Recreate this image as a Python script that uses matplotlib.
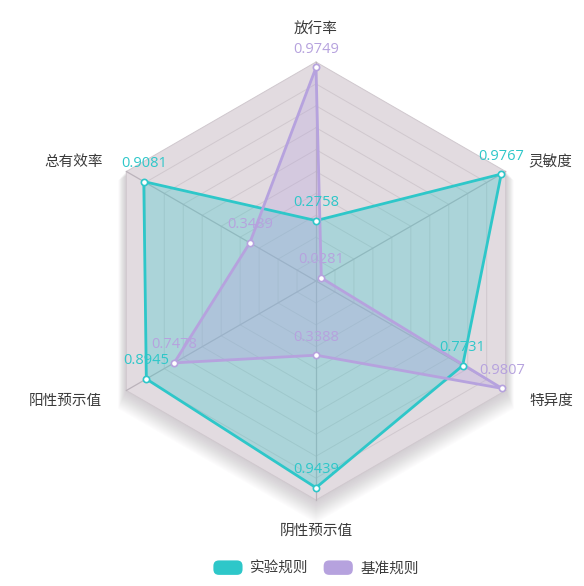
import numpy as np
import matplotlib
matplotlib.use("Agg")
import matplotlib.pyplot as plt
from matplotlib.patches import FancyBboxPatch, Patch
from matplotlib.legend_handler import HandlerPatch
from matplotlib.transforms import ScaledTranslation

plt.rcParams['font.family'] = ['Noto Sans CJK SC', 'DejaVu Sans']

# indicators, counter-clockwise from the top
indicators = ['放行率', '总有效率', '阳性预示值', '阴性预示值', '特异度', '灵敏度']
series_names = ['实验规则', '基准规则']
exp_values = [0.2758, 0.9081, 0.8945, 0.9439, 0.7731, 0.9767]
base_values = [0.9749, 0.3489, 0.7478, 0.3388, 0.9807, 0.0281]
colors = ['#2ec7c9', '#b6a2de']
max_value = 1.0
split_number = 10

# offsets (pixels) for the indicator names relative to the outer vertex
name_offsets = [(0, 32, 'center'), (-23, 9, 'right'), (-24, -10, 'right'),
                (0, -31, 'center'), (24, -10, 'left'), (23, 9, 'left')]

W, H = 584, 586
fig = plt.figure(figsize=(W / 100, H / 100), dpi=100)
cx, cy, R = 316, 281, 219
ax = fig.add_axes([(cx - R) / W, (H - cy - R) / H, 2 * R / W, 2 * R / H],
                  projection='polar')
ax.set_theta_zero_location('N')
ax.set_theta_direction(1)
ax.set_ylim(0, max_value)
ax.axis('off')

n = len(indicators)
angles = np.linspace(0, 2 * np.pi, n, endpoint=False)
ang_c = np.append(angles, angles[0])


def closed(vals):
    return np.append(vals, vals[0])


# soft shadow under the grid
for k in range(1, 18):
    off = ScaledTranslation(0, -0.8 * k / 100, fig.dpi_scale_trans)
    ax.fill(ang_c, closed(np.full(n, max_value * (1 + k * 0.0025))),
            color='#9a909a', alpha=0.028, lw=0, clip_on=False,
            transform=ax.transData + off, zorder=0)

# split area and rings
ax.fill(ang_c, closed(np.full(n, max_value)), color='#e2dbe0', lw=0,
        clip_on=False, zorder=1)
for i in range(1, split_number + 1):
    r = max_value * i / split_number
    ax.plot(ang_c, closed(np.full(n, r)), color='#d0c8ce', lw=0.7,
            clip_on=False, zorder=1.5)
for a in angles:
    ax.plot([a, a], [0, max_value], color='#bbb3bb', lw=0.9, zorder=1.6,
            clip_on=False)

# series
for vals, col in zip([exp_values, base_values], colors):
    ax.fill(ang_c, closed(vals), color=col, alpha=0.3, lw=0, zorder=2)
    ax.plot(ang_c, closed(vals), color=col, lw=2, zorder=3)
    ax.plot(angles, vals, 'o', ms=4.5, mfc='white', mec=col, mew=1.2,
            zorder=4)
    for a, v in zip(angles, vals):
        ax.annotate(f'{v:.4f}', xy=(a, v), xytext=(0, 18),
                    textcoords='offset pixels', ha='center', va='center',
                    fontsize=10.5, color=col, zorder=5,
                    family=['Open Sans', 'DejaVu Sans'])

# indicator names
for a, name, (dx, dy, ha) in zip(angles, indicators, name_offsets):
    ax.annotate(name, xy=(a, max_value), xytext=(dx, dy),
                textcoords='offset pixels', ha=ha, va='center',
                fontsize=10.5, color='#3a3a3a', annotation_clip=False)


class RoundHandler(HandlerPatch):
    def create_artists(self, legend, orig_handle, xdescent, ydescent,
                       width, height, fontsize, trans):
        p = FancyBboxPatch((-xdescent, -ydescent), width, height,
                           boxstyle='round,pad=0,rounding_size=4',
                           facecolor=orig_handle.get_facecolor(),
                           edgecolor='none', transform=trans)
        return [p]


handles = [Patch(facecolor=c) for c in colors]
fig.legend(handles, series_names, loc='center',
           bbox_to_anchor=(cx / W, 1 - 568 / H), ncol=2, frameon=False,
           fontsize=10.5, handlelength=2.0, handleheight=1.15,
           handletextpad=0.5, columnspacing=1.05,
           handler_map={Patch: RoundHandler()}, labelcolor='#3a3a3a')

fig.savefig('out.png', dpi=100, facecolor='white')
